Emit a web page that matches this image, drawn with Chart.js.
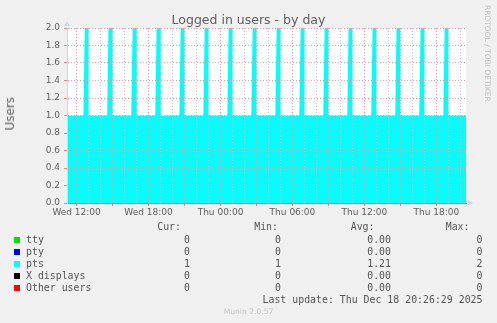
<!DOCTYPE html>
<html>
<head>
<meta charset="utf-8">
<script src="https://cdn.jsdelivr.net/npm/chart.js@4/dist/chart.umd.min.js"></script>
<style>
  html, body { margin: 0; padding: 0; background: #f0f0f0; }
  body { width: 497px; height: 323px; position: relative; overflow: hidden; font-family: "DejaVu Sans", sans-serif; color: #606060; }
  #chart { position: absolute; left: 0; top: 0; }
  .txt { position: absolute; white-space: pre; line-height: 12px; }
  .mono { font-family: "DejaVu Sans Mono", monospace; font-size: 9.9px; color: #555; }
  .sq { position: absolute; width: 6px; height: 6px; }
</style>
</head>
<body>
<canvas id="chart" width="497" height="230"></canvas>
<div class="txt" style="left:0;width:497px;top:13px;line-height:14px;text-align:center;font-size:12.5px;">Logged in users - by day</div>
<div class="txt" style="left:3px;top:97px;font-size:12px;line-height:14px;writing-mode:vertical-rl;transform:rotate(180deg);">Users</div>
<div class="txt" style="left:482px;top:5px;font-size:7.5px;line-height:10px;color:#c0c0c0;writing-mode:vertical-rl;">RRDTOOL / TOBI OETIKER</div>
<div id="legend"></div>
<div class="txt" style="left:0;width:497px;top:306px;text-align:center;font-size:7.6px;color:#c8c8c8;">Munin 2.0.57</div>

<script>
// time axis in hours since Wed 00:00
const timeStart = 11.2;   // Wed 11:12
const timeEnd = 44.47;    // Thu 20:28

const xTickHours = [12, 18, 24, 30, 36, 42];
const xTickLabels = ["Wed 12:00", "Wed 18:00", "Thu 00:00", "Thu 06:00", "Thu 12:00", "Thu 18:00"];

// pts: 1 user normally, a second login every two hours
const ptsBase = 1;
const ptsPeak = 2;
const spikeRise = [12.57, 14.55, 16.56, 18.56, 20.57, 22.57, 24.57, 26.57, 28.57, 30.57, 32.57, 34.57, 36.57, 38.57, 40.57, 42.58];
const spikeTop = [12.68, 14.66, 16.67, 18.67, 20.68, 22.68, 24.68, 26.68, 28.68, 30.68, 32.68, 34.68, 36.68, 38.68, 40.68, 42.69];
const spikeFall = [13.0, 15.0, 17.02, 19.02, 21.0, 23.0, 25.0, 27.0, 29.0, 31.0, 33.0, 35.0, 37.0, 39.0, 41.0, 43.0];

const seriesNames = ["tty", "pty", "pts", "X displays", "Other users"];
const seriesColors = ["#00e000", "#0000ff", "#00ffff", "#000000", "#ff0000"];
const curValues = ["0", "0", "1", "0", "0"];
const minValues = ["0", "0", "1", "0", "0"];
const avgValues = ["0.00", "0.00", "1.21", "0.00", "0.00"];
const maxValues = ["0", "0", "2", "0", "0"];
const lastUpdate = "Last update: Thu Dec 18 20:26:29 2025";

const ptsPoints = [{ x: timeStart, y: ptsBase }];
spikeRise.forEach((t, i) => {
  ptsPoints.push({ x: t, y: ptsBase });
  ptsPoints.push({ x: spikeTop[i], y: ptsPeak });
  ptsPoints.push({ x: spikeFall[i], y: ptsPeak });
  ptsPoints.push({ x: spikeFall[i], y: ptsBase });
});
ptsPoints.push({ x: timeEnd, y: ptsBase });

const zeroLine = [{ x: timeStart, y: 0 }, { x: timeEnd, y: 0 }];

const majorGrid = "#ee9a9a";
const minorGrid = "#c4c4c4";
const axisBlue = "#cfd6f8";
const tickFont = { family: "DejaVu Sans", size: 9 };

const bgPlugin = {
  id: "bg",
  beforeDraw(chart) {
    const { ctx, chartArea: a } = chart;
    ctx.save();
    ctx.fillStyle = "#ffffff";
    ctx.fillRect(a.left, a.top, a.right - a.left, a.bottom - a.top);
    ctx.restore();
  },
  afterDraw(chart) {
    const { ctx, chartArea: a } = chart;
    ctx.save();
    ctx.fillStyle = axisBlue;
    ctx.beginPath();
    ctx.moveTo(a.left - 3, a.top - 2);
    ctx.lineTo(a.left + 3, a.top - 2);
    ctx.lineTo(a.left, a.top - 7);
    ctx.fill();
    ctx.beginPath();
    ctx.moveTo(a.right + 2, a.bottom - 3);
    ctx.lineTo(a.right + 2, a.bottom + 3);
    ctx.lineTo(a.right + 7, a.bottom);
    ctx.fill();
    ctx.restore();
  },
};

const datasets = seriesNames.map((name, i) => ({
  label: name,
  data: name === "pts" ? ptsPoints : zeroLine,
  borderColor: seriesColors[i],
  backgroundColor: seriesColors[i],
  borderWidth: name === "pts" ? 0 : 1,
  fill: name === "pts" ? "origin" : false,
  pointRadius: 0,
  tension: 0,
}));
// draw pts first so the zero lines sit on top of it
datasets.unshift(datasets.splice(2, 1)[0]);

new Chart(document.getElementById("chart"), {
  type: "line",
  data: { datasets },
  options: {
    responsive: false,
    animation: false,
    events: [],
    layout: { padding: { left: 0, top: 28, right: 31, bottom: 0 } },
    plugins: { legend: { display: false }, tooltip: { enabled: false }, title: { display: false } },
    scales: {
      x: {
        type: "linear",
        min: timeStart,
        max: timeEnd,
        afterFit: (scale) => { scale.height = 27; },
        ticks: {
          stepSize: 1,
          includeBounds: false,
          autoSkip: false,
          maxRotation: 0,
          padding: 1,
          font: tickFont,
          color: "#606060",
          callback: (v) => {
            const i = xTickHours.indexOf(Math.round(v));
            return i >= 0 ? xTickLabels[i] : "";
          },
        },
        grid: {
          z: 1,
          color: (c) => (Math.round(c.tick.value) % 3 === 0 ? majorGrid : minorGrid),
          tickColor: (c) => (Math.round(c.tick.value) % 3 === 0 ? "#ee8080" : "rgba(0,0,0,0)"),
          tickLength: 3,
          lineWidth: 1,
          borderDash: [1, 2],
        },
        border: { z: 2, color: "#f07070", dash: [1, 2] },
      },
      y: {
        min: 0,
        max: 2,
        afterFit: (scale) => { scale.width = 67; },
        ticks: {
          stepSize: 0.1,
          padding: 4,
          font: tickFont,
          color: "#606060",
          callback: (v) => (Math.round(v * 10) % 2 === 0 ? Number(v).toFixed(1) : ""),
        },
        grid: {
          z: 1,
          color: (c) => (Math.round(c.tick.value * 10) % 2 === 0 ? majorGrid : minorGrid),
          tickColor: (c) => (Math.round(c.tick.value * 10) % 2 === 0 ? "#ee8080" : "rgba(0,0,0,0)"),
          tickLength: 3,
          lineWidth: 1,
          borderDash: [1, 2],
        },
        border: { z: 2, color: axisBlue, dash: [1, 2] },
      },
    },
  },
  plugins: [bgPlugin],
});

// munin style legend table
const legend = document.getElementById("legend");
const addText = (text, right, centerY, left) => {
  const d = document.createElement("div");
  d.className = "txt mono";
  d.textContent = text;
  d.style.top = centerY - 6 + "px";
  if (left !== undefined) d.style.left = left + "px";
  else d.style.right = 497 - right + "px";
  legend.appendChild(d);
};
const headerY = 227;
addText("Cur:", 181, headerY);
addText("Min:", 278, headerY);
addText("Avg:", 374.5, headerY);
addText("Max:", 469.5, headerY);
seriesNames.forEach((name, i) => {
  const y = 240 + i * 12.1;
  const sq = document.createElement("div");
  sq.className = "sq";
  sq.style.left = "14px";
  sq.style.top = y - 3 + "px";
  sq.style.background = seriesColors[i];
  legend.appendChild(sq);
  addText(name, 0, y, 26);
  addText(curValues[i], 190, y);
  addText(minValues[i], 281, y);
  addText(avgValues[i], 391, y);
  addText(maxValues[i], 482.5, y);
});
addText(lastUpdate, 482.5, 300);
</script>
</body>
</html>
